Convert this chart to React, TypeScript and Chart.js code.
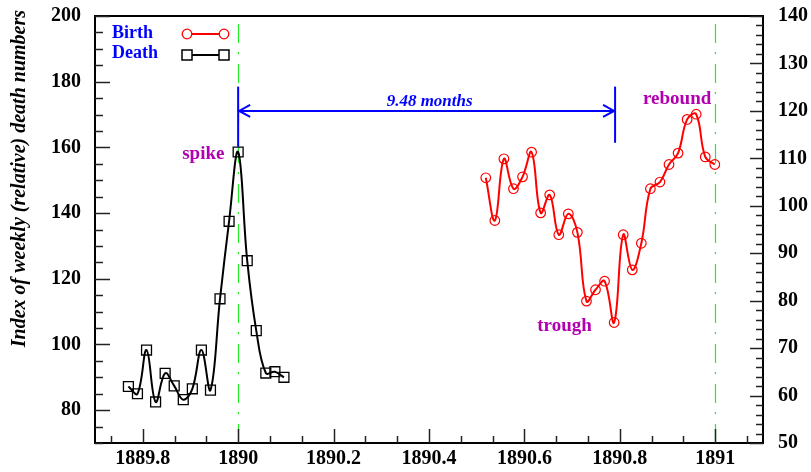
import React, { useEffect, useRef } from "react";
import { Chart, registerables } from "chart.js";

Chart.register(...registerables);

// ---- data ----
const deathX = [1889.770, 1889.789, 1889.808, 1889.827, 1889.847, 1889.866, 1889.885, 1889.904, 1889.923, 1889.942, 1889.962, 1889.981, 1890.000, 1890.019, 1890.038, 1890.058, 1890.077, 1890.096];
const deathY = [87.2, 85.0, 98.3, 82.5, 91.2, 87.4, 83.2, 86.5, 98.3, 86.1, 113.9, 137.5, 158.6, 125.5, 104.2, 91.3, 91.7, 90.0];

const birthX = [1890.519, 1890.538, 1890.557, 1890.577, 1890.596, 1890.615, 1890.634, 1890.653, 1890.672, 1890.692, 1890.711, 1890.730, 1890.749, 1890.768, 1890.788, 1890.807, 1890.826, 1890.845, 1890.864, 1890.884, 1890.903, 1890.922, 1890.941, 1890.960, 1890.979, 1890.999];
const birthY = [105.9, 96.9, 109.9, 103.6, 106.1, 111.3, 98.5, 102.3, 93.9, 98.3, 94.4, 79.9, 82.3, 84.1, 75.4, 93.9, 86.5, 92.1, 103.6, 105.0, 108.7, 111.1, 118.2, 119.3, 110.3, 108.7];

const xTickValues = [1889.8, 1890, 1890.2, 1890.4, 1890.6, 1890.8, 1891];
const leftTickValues = [80, 100, 120, 140, 160, 180, 200];
const rightTickValues = [50, 60, 70, 80, 90, 100, 110, 120, 130, 140];
const markerYears = [1890, 1891];
const spikeYear = 1890.0;
const troughYear = 1890.79;
const intervalLabel = "9.48 months";
const yTitle = "Index of weekly (relative) death numbers";
const legendLabels = ["Birth", "Death"];

const SERIF = '"Liberation Serif", "Times New Roman", serif';

const framePlugin = {
  id: "rootFrame",
  beforeDatasetsDraw(chart: any) {
    const { ctx, chartArea, scales } = chart;
    const x = scales.x;
    const y = scales.y;
    ctx.save();
    ctx.strokeStyle = "#22ee22";
    ctx.lineWidth = 1.2;
    ctx.setLineDash([19, 10, 2, 9]);
    for (const yr of markerYears) {
      const px = Math.round(x.getPixelForValue(yr)) + 0.5;
      ctx.beginPath();
      ctx.moveTo(px, chartArea.bottom);
      ctx.lineTo(px, y.getPixelForValue(197.7));
      ctx.stroke();
    }
    ctx.restore();
  },
  afterDraw(chart: any) {
    const { ctx, chartArea, scales } = chart;
    const x = scales.x;
    const y = scales.y;
    const y1 = scales.y1;
    const { left, right, top, bottom } = chartArea;
    ctx.save();
    ctx.setLineDash([]);
    // frame
    ctx.strokeStyle = "#000";
    ctx.lineWidth = 2;
    ctx.strokeRect(left, top, right - left, bottom - top);

    // ticks
    ctx.lineWidth = 1.5;
    ctx.strokeStyle = "#222";
    const line = (x0: number, y0: number, x1: number, y1p: number) => {
      ctx.beginPath();
      ctx.moveTo(x0, y0);
      ctx.lineTo(x1, y1p);
      ctx.stroke();
    };
    // bottom axis
    const xMinor = 0.2 / 3;
    for (let v = 1889.8 - 2 * xMinor; v <= 1891.1 + 1e-6; v += xMinor) {
      const k = Math.round((v - 1889.8) / xMinor);
      const major = k % 3 === 0;
      const px = Math.round(x.getPixelForValue(v)) + 0.5;
      if (px < left || px > right) continue;
      line(px, bottom, px, bottom - (major ? 14 : 7));
    }
    // left axis
    for (let v = 70; v <= 200; v += 5) {
      const py = Math.round(y.getPixelForValue(v)) + 0.5;
      const major = v % 20 === 0;
      line(left, py, left + (major ? 15 : 8), py);
    }
    // right axis
    for (let v = 50; v <= 140; v += 2) {
      const py = Math.round(y1.getPixelForValue(v)) + 0.5;
      const major = v % 10 === 0;
      line(right, py, right - (major ? 13 : 7), py);
    }

    // y title
    ctx.save();
    ctx.translate(24.5, 10);
    ctx.rotate(-Math.PI / 2);
    ctx.font = `italic bold 20px ${SERIF}`;
    ctx.fillStyle = "#000";
    ctx.textAlign = "right";
    ctx.textBaseline = "alphabetic";
    ctx.fillText(yTitle, 0, 0);
    ctx.restore();

    // legend
    ctx.font = `bold 18px ${SERIF}`;
    ctx.fillStyle = "#0000ff";
    ctx.textAlign = "left";
    ctx.textBaseline = "alphabetic";
    ctx.fillText(legendLabels[0], left + 17, top + 22);
    ctx.fillText(legendLabels[1], left + 17, top + 42);
    const lx0 = left + 92;
    const lx1 = left + 129;
    // birth legend
    ctx.strokeStyle = "#ff0000";
    ctx.lineWidth = 2;
    line(lx0, top + 18, lx1, top + 18);
    ctx.lineWidth = 1.3;
    for (const lx of [lx0, lx1]) {
      ctx.beginPath();
      ctx.fillStyle = "#fff";
      ctx.arc(lx, top + 18, 4.8, 0, Math.PI * 2);
      ctx.fill();
      ctx.stroke();
    }
    // death legend
    ctx.strokeStyle = "#000";
    ctx.lineWidth = 2;
    line(lx0, top + 39, lx1, top + 39);
    ctx.lineWidth = 1.5;
    for (const lx of [lx0, lx1]) {
      ctx.fillStyle = "#fff";
      ctx.fillRect(lx - 5, top + 34, 10, 10);
      ctx.strokeRect(lx - 5, top + 34, 10, 10);
    }

    // interval arrow
    const ax0 = x.getPixelForValue(spikeYear);
    const ax1 = x.getPixelForValue(troughYear);
    const ay = y.getPixelForValue(171.1);
    ctx.strokeStyle = "#0000ff";
    ctx.lineWidth = 2;
    line(ax0, y.getPixelForValue(178.5), ax0, y.getPixelForValue(160.2));
    line(ax1, y.getPixelForValue(178.5), ax1, y.getPixelForValue(161.4));
    line(ax0, ay, ax1, ay);
    ctx.beginPath();
    ctx.moveTo(ax0 + 12, ay - 6);
    ctx.lineTo(ax0 + 1, ay);
    ctx.lineTo(ax0 + 12, ay + 6);
    ctx.moveTo(ax1 - 12, ay - 6);
    ctx.lineTo(ax1 - 1, ay);
    ctx.lineTo(ax1 - 12, ay + 6);
    ctx.stroke();
    ctx.font = `italic bold 17px ${SERIF}`;
    ctx.fillStyle = "#0000ff";
    ctx.textAlign = "center";
    ctx.fillText(intervalLabel, (ax0 + ax1) / 2 + 3, ay - 5);

    // annotations
    ctx.font = `bold 19px ${SERIF}`;
    ctx.fillStyle = "#b000b0";
    ctx.textAlign = "center";
    ctx.fillText("spike", x.getPixelForValue(1889.927), y.getPixelForValue(156.6));
    ctx.fillText("trough", x.getPixelForValue(1890.684), y.getPixelForValue(104.1));
    ctx.fillText("rebound", x.getPixelForValue(1890.920), y.getPixelForValue(173.2));
    ctx.restore();
  },
};

const hiddenGrid = (len: number) => ({
  display: true,
  color: "rgba(0,0,0,0)",
  drawOnChartArea: false,
  drawTicks: true,
  tickLength: len,
});

export default function App() {
  const ref = useRef<HTMLCanvasElement | null>(null);
  useEffect(() => {
    if (!ref.current) return;
    const tickFont = { family: SERIF, size: 20, weight: "bold" as const };
    const chart = new Chart(ref.current, {
      type: "scatter",
      data: {
        datasets: [
          {
            label: "Birth",
            data: birthX.map((v, i) => ({ x: v, y: birthY[i] })),
            xAxisID: "x",
            yAxisID: "y1",
            showLine: true,
            borderColor: "#ff0000",
            borderWidth: 2,
            tension: 0.4,
            pointStyle: "circle",
            pointRadius: 4.8,
            pointBorderColor: "#ff0000",
            pointBackgroundColor: "rgba(0,0,0,0)",
            pointBorderWidth: 1.2,
          },
          {
            label: "Death",
            data: deathX.map((v, i) => ({ x: v, y: deathY[i] })),
            xAxisID: "x",
            yAxisID: "y",
            showLine: true,
            borderColor: "#000000",
            borderWidth: 2,
            tension: 0.4,
            pointStyle: "rect",
            pointRadius: 7,
            pointBorderColor: "#000000",
            pointBackgroundColor: "rgba(0,0,0,0)",
            pointBorderWidth: 1.3,
          },
        ],
      },
      options: {
        responsive: false,
        animation: false,
        events: [],
        layout: { padding: { top: 16, left: 0, right: 0, bottom: 0 } },
        plugins: { legend: { display: false }, tooltip: { enabled: false } },
        scales: {
          x: {
            type: "linear",
            position: "bottom",
            min: 1889.7,
            max: 1891.1,
            afterBuildTicks: (s: any) => {
              s.ticks = xTickValues.map((v) => ({ value: v }));
            },
            afterFit: (s: any) => {
              s.height = 29;
            },
            grid: hiddenGrid(4),
            border: { display: false },
            ticks: {
              autoSkip: false,
              maxRotation: 0,
              padding: 0,
              color: "#000",
              font: tickFont,
              callback: (v: any) => String(Number(Number(v).toFixed(1))),
            },
          },
          y: {
            type: "linear",
            position: "left",
            min: 70,
            max: 200,
            afterBuildTicks: (s: any) => {
              s.ticks = leftTickValues.map((v) => ({ value: v }));
            },
            afterFit: (s: any) => {
              s.width = 95;
            },
            grid: hiddenGrid(14),
            border: { display: false },
            ticks: { padding: 0, color: "#000", font: tickFont },
          },
          y1: {
            type: "linear",
            position: "right",
            min: 50,
            max: 140,
            afterBuildTicks: (s: any) => {
              s.ticks = rightTickValues.map((v) => ({ value: v }));
            },
            afterFit: (s: any) => {
              s.width = 48;
            },
            grid: hiddenGrid(15),
            border: { display: false },
            ticks: { padding: 0, color: "#000", font: tickFont },
          },
        },
      },
      plugins: [framePlugin],
    });
    return () => chart.destroy();
  }, []);
  return (
    <div style={{ position: "fixed", left: 0, top: 0, width: 811, height: 472, background: "#fff" }}>
      <canvas ref={ref} width={811} height={472} style={{ display: "block" }} />
    </div>
  );
}
